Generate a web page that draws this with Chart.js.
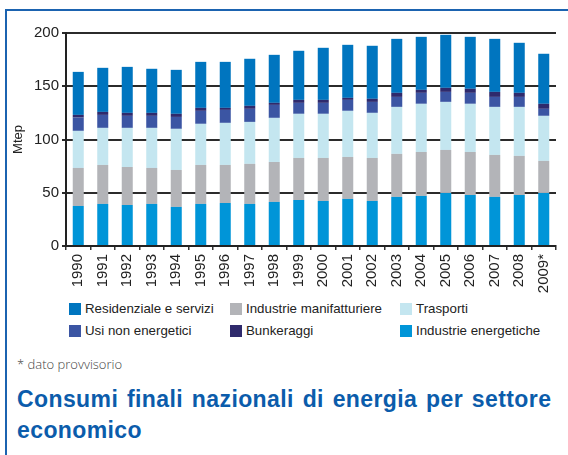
<!DOCTYPE html>
<html lang="it">
<head>
    <meta charset="UTF-8">
    <title>Consumi finali nazionali di energia per settore economico</title>
    <script src="https://cdn.jsdelivr.net/npm/chart.js"></script>
    <style>
        body { margin: 0; width: 568px; height: 455px; background: #fff; position: relative; overflow: hidden; font-family: "Liberation Sans", Arial, sans-serif; }
        .frame { position: absolute; left: 5px; top: 9px; right: 0; bottom: 0; border-top: 2px solid #1b63b0; border-left: 2px solid #1b63b0; }
        .chart-box { position: absolute; left: 0; top: 0; width: 568px; height: 300px; }
        .legend { position: absolute; left: 0; top: 0; }
        .legend-item { position: absolute; font-size: 13.3px; color: #222; white-space: nowrap; line-height: 14px; }
        .legend-item span { display: inline-block; width: 12px; height: 12px; vertical-align: -2px; margin-right: 4px; }
        .note { position: absolute; left: 17px; top: 355px; font-family: "Open Sans", sans-serif; font-weight: 300; font-size: 13px; color: #444; }
        .title { position: absolute; left: 17px; top: 384px; font-weight: bold; font-size: 23px; line-height: 31px; color: #0b5cab; letter-spacing: 0.4px; word-spacing: 2px; }
    </style>
</head>
<body>
    <div class="frame"></div>
    <div class="chart-box"><canvas id="barChart"></canvas></div>
    <div class="legend" id="legend"></div>
    <div class="note">* dato provvisorio</div>
    <div class="title">Consumi finali nazionali di energia per settore<br>economico</div>

    <script>
        // Years (2009 is provisional)
        const years = ['1990', '1991', '1992', '1993', '1994', '1995', '1996', '1997', '1998', '1999',
                       '2000', '2001', '2002', '2003', '2004', '2005', '2006', '2007', '2008', '2009*'];

        // Mtep per sector, bottom of the stack first
        const industrieEnergetiche = [37.6, 39.5, 38.5, 39.5, 36.7, 39.5, 40.4, 39.5, 41.4, 43.2,
                                      42.3, 44.2, 42.3, 46.1, 47.0, 49.8, 47.9, 46.1, 47.9, 49.8];
        const industrieManifatturiere = [35.7, 36.6, 35.7, 33.8, 34.7, 36.6, 35.7, 37.6, 37.5, 39.5,
                                         40.4, 39.4, 40.4, 40.4, 41.3, 40.4, 40.4, 39.4, 36.7, 30.1];
        const trasporti = [34.8, 34.8, 36.7, 37.6, 38.6, 38.6, 39.5, 39.4, 41.4, 41.4,
                           41.4, 43.3, 42.3, 44.1, 45.2, 45.1, 45.2, 45.1, 46.0, 42.3];
        const usiNonEnergetici = [12.5, 12.2, 11.3, 11.3, 11.2, 12.2, 12.2, 12.3, 12.2, 10.3,
                                  10.3, 10.3, 10.3, 9.4, 10.3, 9.4, 10.3, 9.4, 9.4, 6.6];
        const bunkeraggi = [2.5, 2.8, 2.8, 2.8, 2.9, 2.8, 1.9, 2.8, 1.9, 2.8,
                            2.8, 1.9, 2.9, 3.8, 2.8, 3.8, 3.8, 4.7, 3.8, 4.7];
        const residenzialeServizi = [40.4, 41.4, 43.2, 41.4, 41.3, 43.2, 43.2, 44.2, 45.1, 46.1,
                                     48.9, 49.8, 49.8, 50.7, 49.8, 49.8, 48.8, 49.8, 47.0, 47.0];

        const yTicks = [0, 50, 100, 150, 200];

        const datasets = [
            { label: 'Industrie energetiche', data: industrieEnergetiche, backgroundColor: '#0095d8' },
            { label: 'Industrie manifatturiere', data: industrieManifatturiere, backgroundColor: '#b3b4b8' },
            { label: 'Trasporti', data: trasporti, backgroundColor: '#c4e6f0' },
            { label: 'Usi non energetici', data: usiNonEnergetici, backgroundColor: '#3b55a3' },
            { label: 'Bunkeraggi', data: bunkeraggi, backgroundColor: '#2f2a6c' },
            { label: 'Residenziale e servizi', data: residenzialeServizi, backgroundColor: '#0075bf' }
        ];
        datasets.forEach(ds => {
            ds.barPercentage = 0.9;
            ds.categoryPercentage = 0.5;
        });

        const ctx = document.getElementById('barChart').getContext('2d');
        const barChart = new Chart(ctx, {
            type: 'bar',
            data: { labels: years, datasets: datasets },
            options: {
                responsive: true,
                maintainAspectRatio: false,
                animation: false,
                layout: { padding: { top: 33, right: 12, left: 0, bottom: 0 } },
                plugins: {
                    legend: { display: false },
                    tooltip: { enabled: false }
                },
                scales: {
                    x: {
                        stacked: true,
                        afterFit: (scale) => { scale.height = 54; },
                        grid: { drawOnChartArea: false, drawTicks: true, tickLength: 4, color: '#333', lineWidth: 1.5 },
                        border: { color: '#222', width: 2 },
                        ticks: {
                            minRotation: 90, maxRotation: 90, padding: 4,
                            color: '#222',
                            font: { family: 'Liberation Sans', size: 15 }
                        }
                    },
                    y: {
                        stacked: true,
                        min: 0, max: 200,
                        afterFit: (scale) => { scale.width = 66; },
                        afterBuildTicks: (scale) => { scale.ticks = yTicks.map(v => ({ value: v })); },
                        grid: { color: '#2b2b2b', lineWidth: 2, tickLength: 4 },
                        border: { color: '#222', width: 2 },
                        ticks: {
                            padding: 3, color: '#222',
                            font: { family: 'Liberation Sans', size: 15 }
                        },
                        title: {
                            display: true, text: 'Mtep', color: '#222',
                            font: { family: 'Liberation Sans', size: 13 },
                            padding: { top: 11, bottom: 0 }
                        }
                    }
                }
            }
        });

        // Legend laid out in 3 columns like the original figure
        const legendOrder = ['Residenziale e servizi', 'Industrie manifatturiere', 'Trasporti',
                             'Usi non energetici', 'Bunkeraggi', 'Industrie energetiche'];
        const colX = [69, 230, 400];
        const rowY = [302, 324];
        const legendEl = document.getElementById('legend');
        legendOrder.forEach((name, i) => {
            const ds = datasets.find(d => d.label === name);
            const item = document.createElement('div');
            item.className = 'legend-item';
            item.style.left = colX[i % 3] + 'px';
            item.style.top = rowY[Math.floor(i / 3)] + 'px';
            item.innerHTML = '<span style="background:' + ds.backgroundColor + '"></span>' + name;
            legendEl.appendChild(item);
        });
    </script>
</body>
</html>
